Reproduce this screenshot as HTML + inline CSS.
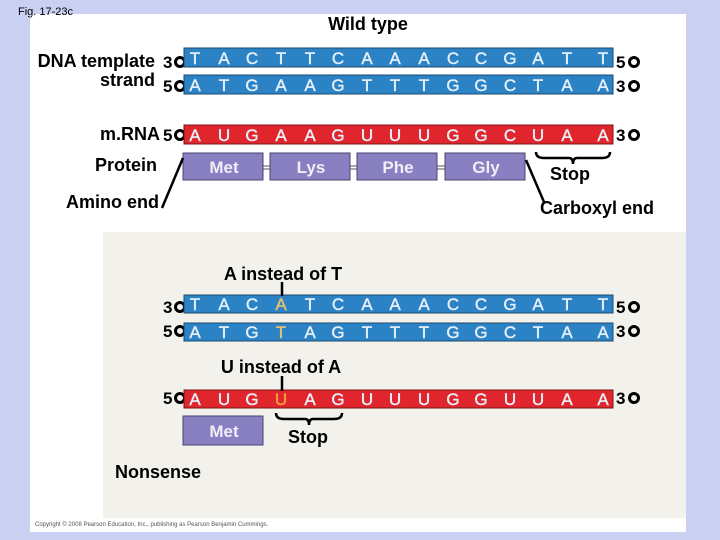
<!DOCTYPE html>
<html><head><meta charset="utf-8"><style>
html,body{margin:0;padding:0;width:720px;height:540px;overflow:hidden;background:#c9d0f2;}
svg{display:block}
</style></head><body>
<svg width="720" height="540" xmlns="http://www.w3.org/2000/svg" font-family="Liberation Sans, sans-serif">
<rect x="0" y="0" width="720" height="540" fill="#c9d0f2"/>
<rect x="30" y="14" width="656" height="518" fill="#ffffff"/>
<rect x="103" y="232" width="583" height="286" fill="#f3f1ec"/>
<text x="18" y="15" font-size="11" fill="#000">Fig. 17-23c</text>
<g font-size="18" font-weight="bold" fill="#000">
<text x="368" y="30" text-anchor="middle">Wild type</text>
<text x="155" y="67" text-anchor="end">DNA template</text>
<text x="155" y="86" text-anchor="end">strand</text>
<text x="160" y="140" text-anchor="end">m.RNA</text>
<text x="95" y="171">Protein</text>
<text x="66" y="208">Amino end</text>
<text x="540" y="214">Carboxyl end</text>
<text x="550" y="180">Stop</text>
<text x="288" y="443">Stop</text>
<text x="283" y="280" text-anchor="middle">A instead of T</text>
<text x="281" y="373" text-anchor="middle">U instead of A</text>
<text x="115" y="478">Nonsense</text>
</g>
<g font-size="17" font-weight="bold">
<text x="163" y="68">3</text><text x="163" y="92">5</text><text x="163" y="141">5</text>
<text x="616" y="68">5</text><text x="616" y="92">3</text><text x="616" y="141">3</text>
<text x="163" y="313">3</text><text x="163" y="337">5</text><text x="163" y="404">5</text>
<text x="616" y="313">5</text><text x="616" y="337">3</text><text x="616" y="404">3</text>
</g>
<g fill="none" stroke="#000" stroke-width="3">
<circle cx="180" cy="62" r="4.5"/><circle cx="180" cy="86" r="4.5"/><circle cx="180" cy="135" r="4.5"/>
<circle cx="634" cy="62" r="4.5"/><circle cx="634" cy="86" r="4.5"/><circle cx="634" cy="135" r="4.5"/>
<circle cx="180" cy="307" r="4.5"/><circle cx="180" cy="331" r="4.5"/><circle cx="180" cy="398" r="4.5"/>
<circle cx="634" cy="307" r="4.5"/><circle cx="634" cy="331" r="4.5"/><circle cx="634" cy="398" r="4.5"/>
</g>
<g stroke="#1a4a70" stroke-width="1">
<rect x="184" y="48" width="429" height="19" fill="#2b82c4"/>
<rect x="184" y="75" width="429" height="19" fill="#2b82c4"/>
<rect x="184" y="295" width="429" height="18" fill="#2b82c4"/>
<rect x="184" y="323" width="429" height="18" fill="#2b82c4"/>
</g>
<g stroke="#7a1515" stroke-width="1">
<rect x="184" y="125" width="429" height="19" fill="#e0262c"/>
<rect x="184" y="390" width="429" height="18" fill="#e0262c"/>
</g>
<g font-size="17" fill="#e6f0fa" text-anchor="middle" stroke="#e6f0fa" stroke-width="0.4">
<text y="64"><tspan x="195">T</tspan><tspan x="224">A</tspan><tspan x="252">C</tspan><tspan x="281">T</tspan><tspan x="310">T</tspan><tspan x="338">C</tspan><tspan x="367">A</tspan><tspan x="395">A</tspan><tspan x="424">A</tspan><tspan x="453">C</tspan><tspan x="481">C</tspan><tspan x="510">G</tspan><tspan x="538">A</tspan><tspan x="567">T</tspan><tspan x="603">T</tspan></text>
<text y="91"><tspan x="195">A</tspan><tspan x="224">T</tspan><tspan x="252">G</tspan><tspan x="281">A</tspan><tspan x="310">A</tspan><tspan x="338">G</tspan><tspan x="367">T</tspan><tspan x="395">T</tspan><tspan x="424">T</tspan><tspan x="453">G</tspan><tspan x="481">G</tspan><tspan x="510">C</tspan><tspan x="538">T</tspan><tspan x="567">A</tspan><tspan x="603">A</tspan></text>
<text y="141"><tspan x="195">A</tspan><tspan x="224">U</tspan><tspan x="252">G</tspan><tspan x="281">A</tspan><tspan x="310">A</tspan><tspan x="338">G</tspan><tspan x="367">U</tspan><tspan x="395">U</tspan><tspan x="424">U</tspan><tspan x="453">G</tspan><tspan x="481">G</tspan><tspan x="510">C</tspan><tspan x="538">U</tspan><tspan x="567">A</tspan><tspan x="603">A</tspan></text>
<text y="310"><tspan x="195">T</tspan><tspan x="224">A</tspan><tspan x="252">C</tspan><tspan x="281" fill="#e8c070" stroke="#e8c070">A</tspan><tspan x="310">T</tspan><tspan x="338">C</tspan><tspan x="367">A</tspan><tspan x="395">A</tspan><tspan x="424">A</tspan><tspan x="453">C</tspan><tspan x="481">C</tspan><tspan x="510">G</tspan><tspan x="538">A</tspan><tspan x="567">T</tspan><tspan x="603">T</tspan></text>
<text y="338"><tspan x="195">A</tspan><tspan x="224">T</tspan><tspan x="252">G</tspan><tspan x="281" fill="#e8c070" stroke="#e8c070">T</tspan><tspan x="310">A</tspan><tspan x="338">G</tspan><tspan x="367">T</tspan><tspan x="395">T</tspan><tspan x="424">T</tspan><tspan x="453">G</tspan><tspan x="481">G</tspan><tspan x="510">C</tspan><tspan x="538">T</tspan><tspan x="567">A</tspan><tspan x="603">A</tspan></text>
<text y="405"><tspan x="195">A</tspan><tspan x="224">U</tspan><tspan x="252">G</tspan><tspan x="281" fill="#f0a040" stroke="#f0a040">U</tspan><tspan x="310">A</tspan><tspan x="338">G</tspan><tspan x="367">U</tspan><tspan x="395">U</tspan><tspan x="424">U</tspan><tspan x="453">G</tspan><tspan x="481">G</tspan><tspan x="510">U</tspan><tspan x="538">U</tspan><tspan x="567">A</tspan><tspan x="603">A</tspan></text>
</g>
<g stroke="#555" stroke-width="1">
<line x1="263" y1="166" x2="270" y2="166"/><line x1="263" y1="169" x2="270" y2="169"/>
<line x1="350" y1="166" x2="357" y2="166"/><line x1="350" y1="169" x2="357" y2="169"/>
<line x1="437" y1="166" x2="445" y2="166"/><line x1="437" y1="169" x2="445" y2="169"/>
</g>
<g fill="#8880c0" stroke="#4a4470" stroke-width="1">
<rect x="183" y="153" width="80" height="27"/><rect x="270" y="153" width="80" height="27"/>
<rect x="357" y="153" width="80" height="27"/><rect x="445" y="153" width="80" height="27"/>
<rect x="183" y="416" width="80" height="29"/>
</g>
<g font-size="17" fill="#f0eef8" text-anchor="middle" font-weight="bold">
<text x="224" y="173">Met</text><text x="311" y="173">Lys</text><text x="398" y="173">Phe</text><text x="486" y="173">Gly</text>
<text x="224" y="437">Met</text>
</g>
<g fill="none" stroke="#000" stroke-width="2.5">
<path d="M536 152 q0 6 8 6 h25 q4 0 4 6 q0-6 4-6 h25 q8 0 8-6"/>
<path d="M276 413 q0 6 8 6 h21 q4 0 4 6 q0-6 4-6 h21 q8 0 8-6"/>
<line x1="183" y1="158" x2="162" y2="208"/>
<line x1="526" y1="160" x2="544" y2="202"/>
<line x1="282" y1="282" x2="282" y2="296"/>
<line x1="282" y1="376" x2="282" y2="391"/>
</g>
<text x="35" y="526" font-size="6" fill="#555">Copyright © 2008 Pearson Education, Inc., publishing as Pearson Benjamin Cummings.</text>
</svg>
</body></html>
